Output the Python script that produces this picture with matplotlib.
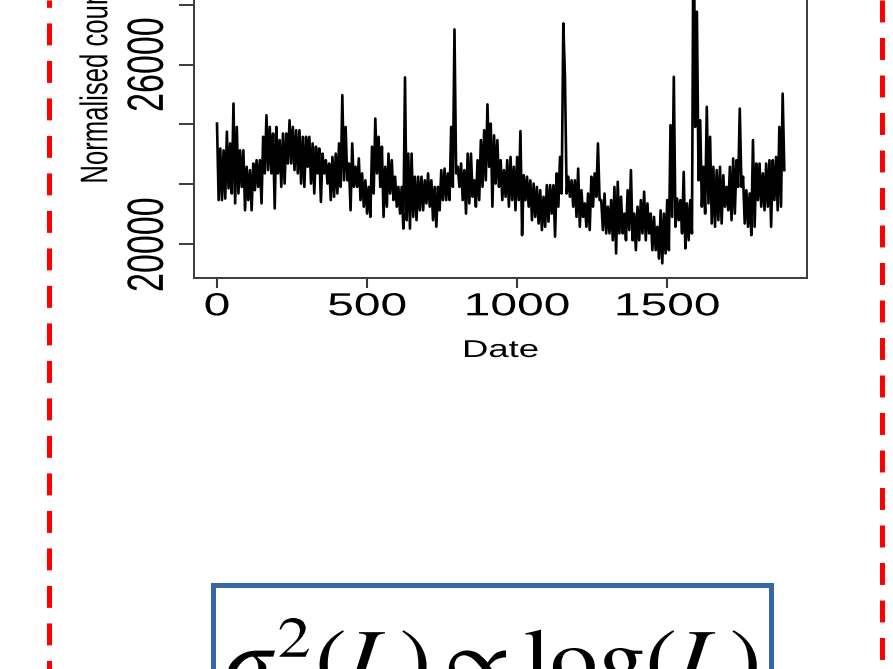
import numpy as np
import matplotlib.pyplot as plt
from matplotlib.lines import Line2D
from matplotlib.patches import Rectangle
from matplotlib.patheffects import AbstractPathEffect
from matplotlib.transforms import Affine2D

plt.rcParams['mathtext.fontset'] = 'stix'
plt.rcParams['lines.scale_dashes'] = False

# normalised daily counts, taken as alternating highs and lows of the trace
counts = [
    24030, 21480, 23200, 21480, 23140, 21530, 23760, 21870, 23370, 21700,
    24700, 21370, 23920, 21700, 23140, 21920, 23140, 21140, 22590, 21480,
    22480, 21140, 22700, 21810, 22810, 21920, 22810, 21370, 23590, 22370,
    24310, 22480, 23920, 22370, 23700, 21200, 23920, 22370, 23480, 21920,
    23700, 22030, 23700, 22700, 24140, 22700, 23920, 22480, 23810, 22370,
    23810, 22030, 23590, 21920, 23590, 22590,
    23590, 22030, 23370, 21700, 23260, 22370, 23200, 21420, 23030, 22370,
    22810, 22030, 22700, 21480, 22920, 21590, 23030, 21700, 23370, 21920,
    24980, 22140, 23920, 22140, 22700, 21140, 23370, 21920, 22590, 21920,
    22870, 21480, 22370, 21260, 22140, 21030, 21920, 20920, 23260, 21700,
    24200, 22370, 23590, 21920, 23260, 20920, 22590, 21260, 23030, 21700,
    22810, 21480, 22260, 21260, 21920, 21030, 21920, 20530, 25570, 20810,
    23030, 20530, 23030, 20920, 22260, 20810, 22260, 21140, 22260, 21140,
    22140, 21370, 22370, 21260, 22140, 20810, 21920, 20590, 21920, 21140,
    22480, 21480, 22530, 21480, 22370, 21480, 23920, 21920, 27170, 22370,
    22590, 21920, 22700, 21480, 22480, 21030, 23030, 21370, 23030, 21590,
    22140, 21260, 22810, 21480, 23480, 21920, 23810, 22140, 24670, 22590,
    24030, 21260, 23640, 22030, 23480, 21920, 22810, 21480,
    22480, 21590, 22810, 21260, 22920, 21480, 22590, 21140, 22920, 21480,
    23780, 20310, 22310, 21480, 22260, 21260, 22140, 20810, 22030, 20920,
    21920, 20700, 21810, 20480, 21590, 20590, 21980, 20760, 21980, 21030,
    21980, 20260, 22370, 21260, 22920, 21700, 27370, 25590, 21700, 22260,
    21590, 22140, 21260, 22140, 20920, 22530, 20590, 21810, 20920, 21370,
    20590, 21700, 20480, 22260, 21260, 22370, 21590, 23370, 21480, 21480,
    20480,
    21700, 20370, 21260, 20370, 21480, 20140, 21920, 19700, 22090, 20370,
    21590, 20370, 21030, 20140, 21810, 20480, 22480, 20140, 21030, 19810,
    21260, 20140, 21480, 20370, 21760, 20140, 21370, 20370, 21030, 19810,
    20920, 19810, 20590, 19530, 21140, 19370, 21030, 19700, 21480, 19810,
    23980, 20920, 25590, 20590, 21530, 20810, 21480, 20370, 22420, 19870,
    21370, 20140, 21480, 20370, 31800, 23920, 27760, 22140, 24140, 21260,
    22590, 21030, 24590, 21370, 23590, 20700, 22590, 20590, 22480, 20810,
    22590, 20700, 22310, 21260, 21920, 21140, 22590, 20810, 22870, 21030,
    22810, 21920, 24530, 21920, 22260, 20700, 21810, 20590, 21700, 20310,
    23480, 20590, 22700, 21480, 22700, 21260, 22370, 21140, 22700, 21260,
    22810, 20590, 22810, 21480, 22920, 21140, 23920, 21260, 25030, 22480,
]
days = np.linspace(0, 1889, len(counts))

x_ticks = [0, 500, 1000, 1500]
x_tick_labels = ['0', '500', '1000', '1500']
y_ticks = [20000, 22000, 24000, 26000, 28000, 30000, 32000]
y_tick_labels = ['20000', '', '', '26000', '', '', '']


class Widen(AbstractPathEffect):
    """Stretch glyphs sideways about their own centre."""

    def __init__(self, sx):
        super().__init__()
        self.sx = sx

    def draw_path(self, renderer, gc, tpath, affine, rgbFace=None):
        box = tpath.get_extents(affine)
        cx = (box.x0 + box.x1) / 2
        stretch = Affine2D().translate(-cx, 0).scale(self.sx, 1).translate(cx, 0)
        renderer.draw_path(gc, tpath, affine + stretch, rgbFace)


wide = [Widen(1.5)]
arial = 'Liberation Sans'

W, H = 893, 669
fig = plt.figure(figsize=(W / 100, H / 100), dpi=100)

# the plot runs off the top of the page, so the axes box goes past 1
ax = fig.add_axes([194.3 / W, 390.7 / H, 612.7 / W, 402.7 / H])
ax.plot(days, counts, color='black', lw=1.9)
ax.margins(x=0.04, y=0.04)

for side in ['left', 'right', 'bottom', 'top']:
    ax.spines[side].set_color('#3a3a3a')
    ax.spines[side].set_linewidth(1.4)

ax.set_xticks(x_ticks, x_tick_labels, fontsize=23, family=arial)
ax.tick_params(axis='x', direction='out', length=7.2, width=1.5,
               pad=2.9, color='#3a3a3a')
ax.set_yticks(y_ticks, y_tick_labels, rotation=90, va='center',
              fontsize=24.5, family=arial)
ax.tick_params(axis='y', direction='out', length=10.8, width=1.4,
               pad=11, color='#3a3a3a')
for lab in ax.get_xticklabels() + ax.get_yticklabels():
    lab.set_path_effects(wide)

ax.set_xlabel('Date', fontsize=17.5, family=arial, path_effects=wide)
ax.xaxis.set_label_coords(0.5, -0.1532)
ax.set_ylabel('Normalised counts', fontsize=18.5, family=arial,
              va='center', path_effects=wide)
ax.yaxis.set_label_coords(-0.161, 0.5)

# red dashed frame edges
fig.add_artist(Line2D([49 / W, 49 / W], [1, 0], transform=fig.transFigure,
                      color='#ff0000', lw=3.6,
                      linestyle=(10.5, (15.8, 11.2))))
fig.add_artist(Line2D([882 / W, 882 / W], [1, 0], transform=fig.transFigure,
                      color='#ff0000', lw=3.6,
                      linestyle=(0, (15.8, 11.2))))

# boxed formula at the foot
fig.add_artist(Rectangle((212.5 / W, -0.1), (771 - 212.5) / W,
                         (669 - 584.5) / H + 0.1, transform=fig.transFigure,
                         fill=False, ec='#3767a8', lw=3.6))
fig.text(492 / W, (669 - 686) / H, r'$\sigma^2(L)\propto\log(L)$',
         fontsize=59, ha='center', va='baseline', path_effects=[Widen(1.16)])

fig.savefig('out.png', dpi=100)
